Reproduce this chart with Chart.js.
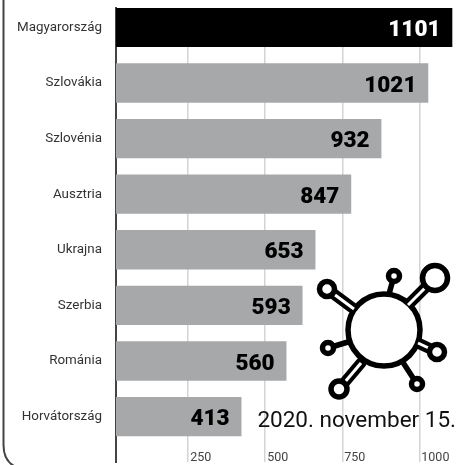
<!DOCTYPE html>
<html>
<head>
<meta charset="utf-8">
<style>
    html, body { margin: 0; padding: 0; background: #fff; }
    canvas { display: block; }
</style>
<script src="https://cdn.jsdelivr.net/npm/chart.js@4"></script>
</head>
<body>
<canvas id="chart" width="456" height="465"></canvas>
<script>
const countries = ["Magyarország", "Szlovákia", "Szlovénia", "Ausztria", "Ukrajna", "Szerbia", "Románia", "Horvátország"];
// printed numbers on the bars
const printedValues = [1101, 1021, 932, 847, 653, 593, 560, 413];
// bar lengths as read against the axis, they do not follow the printed numbers
const barLengths = [1106, 1028, 876, 778, 662, 620, 568, 422];
const barColors = ["#000000", "#a7a8aa", "#a7a8aa", "#a7a8aa", "#a7a8aa", "#a7a8aa", "#a7a8aa", "#a7a8aa"];
const valueColors = ["#ffffff", "#000000", "#000000", "#000000", "#000000", "#000000", "#000000", "#000000"];
const tickValues = [250, 500, 750, 1000];
const dateText = "2020. november 15.";

// bar value labels, inside the right end of each bar
const valueLabels = {
    id: "valueLabels",
    afterDatasetsDraw(chart) {
        const ctx = chart.ctx;
        ctx.save();
        ctx.font = "900 22.5px Roboto";
        ctx.textAlign = "right";
        ctx.textBaseline = "middle";
        chart.getDatasetMeta(0).data.forEach((bar, i) => {
            ctx.fillStyle = valueColors[i];
            ctx.fillText(printedValues[i], bar.x - 11.5, bar.y + 3);
        });
        ctx.restore();
    }
};

// frame on the left, the virus icon and the date
const decorations = {
    id: "decorations",
    afterDraw(chart) {
        const ctx = chart.ctx;
        ctx.save();

        ctx.strokeStyle = "#444";
        ctx.lineWidth = 2;
        ctx.beginPath();
        ctx.moveTo(3.5, 0);
        ctx.lineTo(3.5, 445);
        ctx.quadraticCurveTo(3.5, 460, 14, 466);
        ctx.stroke();

        ctx.fillStyle = "#111";
        ctx.font = "400 22.5px Roboto";
        ctx.textAlign = "right";
        ctx.textBaseline = "alphabetic";
        ctx.fillText(dateText, 456, 427);

        ctx.strokeStyle = "#000";
        ctx.lineCap = "round";

        // thin stems with small knobs
        [[394, 276, 389, 294], [328, 348, 348, 342], [417, 384, 404, 364]].forEach((s) => {
            ctx.lineWidth = 5.5;
            ctx.beginPath();
            ctx.moveTo(s[0], s[1]);
            ctx.lineTo(s[2], s[3]);
            ctx.stroke();
        });

        // hollow arms
        const arms = [
            [435, 278, 408, 305],
            [327, 289, 354, 309],
            [437, 352, 418, 343],
            [339, 389, 361, 363]
        ];
        arms.forEach((a) => {
            ctx.lineWidth = 11;
            ctx.beginPath();
            ctx.moveTo(a[0], a[1]);
            ctx.lineTo(a[2], a[3]);
            ctx.stroke();
        });

        ctx.lineWidth = 5.5;
        ctx.fillStyle = "#fff";
        ctx.beginPath();
        ctx.arc(384, 330, 36, 0, Math.PI * 2);
        ctx.fill();
        ctx.stroke();

        ctx.strokeStyle = "#fff";
        ctx.lineWidth = 3;
        ctx.lineCap = "butt";
        arms.forEach((a) => {
            ctx.beginPath();
            ctx.moveTo(a[0], a[1]);
            ctx.lineTo(a[2], a[3]);
            ctx.stroke();
        });

        // ring ends: [x, y, r]
        [[435, 278, 12.5], [327, 289, 7.5], [437, 352, 7.5], [339, 389, 8], [394, 276, 5.5], [328, 348, 5.5], [417, 384, 5.5]].forEach((r) => {
            ctx.strokeStyle = "#000";
            ctx.lineWidth = 5.5;
            ctx.beginPath();
            ctx.arc(r[0], r[1], r[2], 0, Math.PI * 2);
            ctx.fill();
            ctx.stroke();
        });

        ctx.restore();
    }
};

new Chart(document.getElementById("chart"), {
    type: "bar",
    data: {
        datasets: [{
            data: barLengths.map((v, i) => ({ x: v, y: i })),
            backgroundColor: barColors,
            barThickness: 38.7
        }]
    },
    options: {
        indexAxis: "y",
        responsive: false,
        animation: false,
        layout: { padding: { top: 8, bottom: 3, left: 0, right: 0 } },
        plugins: {
            legend: { display: false },
            tooltip: { enabled: false }
        },
        scales: {
            x: {
                type: "linear",
                position: "bottom",
                min: 16,
                max: 1119,
                afterBuildTicks(scale) {
                    scale.ticks = tickValues.map((v) => ({ value: v }));
                },
                afterFit(scale) {
                    scale.height = 0;
                },
                grid: { color: "#d4d4d4", lineWidth: 1.5, drawTicks: false },
                border: { display: false },
                ticks: {
                    // mirrored, so the labels sit inside the plot above its bottom edge
                    mirror: true,
                    align: "start",
                    labelOffset: 2,
                    padding: -3,
                    maxRotation: 0,
                    autoSkip: false,
                    color: "#444",
                    font: { family: "Roboto", size: 12.5 },
                    callback: (value) => String(value)
                }
            },
            y: {
                type: "linear",
                offset: false,
                reverse: true,
                min: -0.348,
                max: 7.817,
                afterBuildTicks(scale) {
                    scale.ticks = countries.map((c, i) => ({ value: i }));
                },
                afterFit(scale) {
                    scale.width = 116;
                    // tick padding would otherwise push the plot area in
                    scale.paddingTop = 0;
                    scale.paddingBottom = 0;
                },
                grid: { display: false, drawTicks: false },
                border: { display: true, color: "#444", width: 2 },
                ticks: {
                    padding: 14,
                    autoSkip: false,
                    color: "#333",
                    font: { family: "Roboto", size: 13.4 },
                    callback: (value) => countries[value]
                }
            }
        }
    },
    plugins: [valueLabels, decorations]
});
</script>
</body>
</html>
